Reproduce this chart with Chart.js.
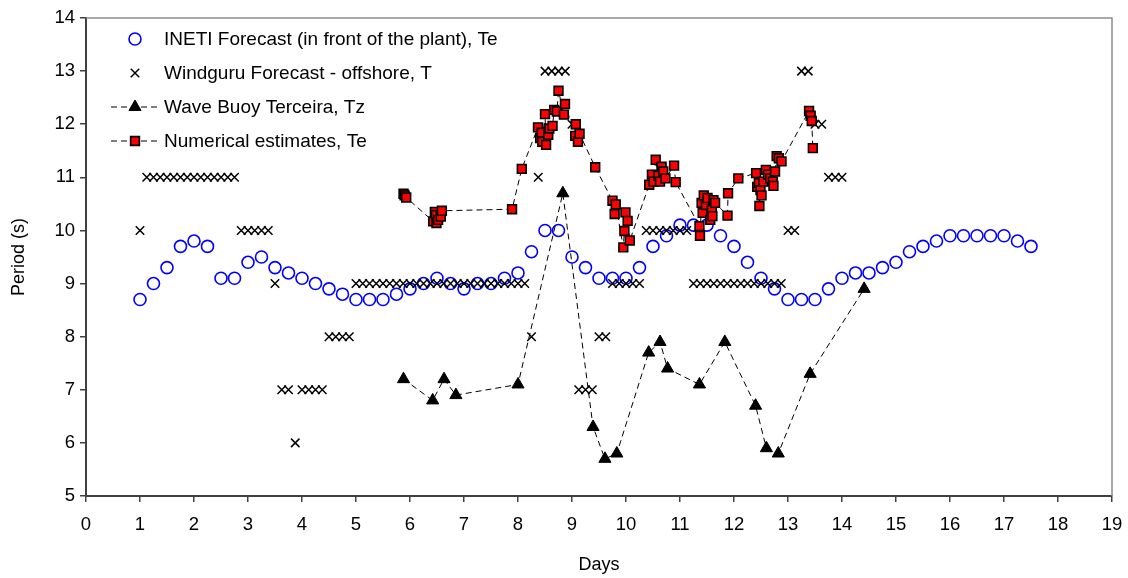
<!DOCTYPE html>
<html>
<head>
<meta charset="utf-8">
<script src="https://cdn.jsdelivr.net/npm/chart.js@4.4.1/dist/chart.umd.min.js"></script>
<style>
  html, body { margin: 0; padding: 0; background: #fff; }
  #wrap { width: 1128px; height: 578px; }
</style>
</head>
<body>
<div id="wrap"><canvas id="theChart" width="1128" height="578"></canvas></div>
<script>
// INETI forecast, every 6 hours from day 1
const inetiStart = 1, inetiStep = 0.25;
const inetiTe = [8.7, 9.0, 9.3, 9.7, 9.8, 9.7, 9.1, 9.1, 9.4, 9.5, 9.3, 9.2, 9.1, 9.0, 8.9, 8.8,
  8.7, 8.7, 8.7, 8.8, 8.9, 9.0, 9.1, 9.0, 8.9, 9.0, 9.0, 9.1, 9.2, 9.6, 10.0, 10.0,
  9.5, 9.3, 9.1, 9.1, 9.1, 9.3, 9.7, 9.9, 10.1, 10.1, 10.1, 9.9, 9.7, 9.4, 9.1, 8.9,
  8.7, 8.7, 8.7, 8.9, 9.1, 9.2, 9.2, 9.3, 9.4, 9.6, 9.7, 9.8, 9.9, 9.9, 9.9, 9.9,
  9.9, 9.8, 9.7];

// Windguru forecast, every 3 hours from day 1
const windStart = 1, windStep = 0.125;
const windT = [10,
  11, 11, 11, 11, 11, 11, 11, 11, 11, 11, 11, 11, 11, 11,
  10, 10, 10, 10, 10, 9, 7, 7, 6, 7, 7, 7, 7, 8, 8, 8, 8,
  9, 9, 9, 9, 9, 9, 9, 9, 9, 9, 9, 9, 9, 9, 9, 9, 9, 9, 9, 9, 9, 9, 9, 9, 9, 9,
  8, 11, 13, 13, 13, 13, 12, 7, 7, 7, 8, 8, 9, 9, 9, 9, 9,
  10, 10, 10, 10, 10, 10, 10,
  9, 9, 9, 9, 9, 9, 9, 9, 9, 9, 9, 9, 9, 9,
  10, 10, 13, 13, 12, 12, 11, 11, 11];

// wave buoy
const buoyDays = [5.88, 6.42, 6.63, 6.85, 8.0, 8.83, 9.39, 9.61, 9.83, 10.42, 10.63, 10.77,
  11.36, 11.83, 12.4, 12.6, 12.82, 13.41, 14.41];
const buoyTz = [7.2, 6.8, 7.2, 6.9, 7.1, 10.7, 6.3, 5.7, 5.8, 7.7, 7.9, 7.4,
  7.1, 7.9, 6.7, 5.9, 5.8, 7.3, 8.9];

// numerical estimates
const numDays = [5.88, 5.90, 5.93, 6.43, 6.46, 6.48, 6.49, 6.52, 6.57, 6.59, 7.89, 8.07,
  8.37, 8.41, 8.44, 8.45, 8.50, 8.52, 8.56, 8.58, 8.64, 8.67, 8.72, 8.75, 8.85, 8.87,
  9.06, 9.07, 9.11, 9.14, 9.43, 9.75, 9.79, 9.81, 9.95, 9.97, 9.99, 10.03, 10.07,
  10.43, 10.48, 10.51, 10.55, 10.60, 10.63, 10.66, 10.69, 10.73, 10.89, 10.92,
  11.36, 11.37, 11.40, 11.42, 11.44, 11.48, 11.51, 11.56, 11.59, 11.60, 11.62, 11.65,
  11.88, 11.89, 12.08, 12.41, 12.43, 12.46, 12.47, 12.49, 12.51, 12.54, 12.59, 12.63,
  12.67, 12.72, 12.73, 12.76, 12.79, 12.83, 12.88, 13.39, 13.42, 13.44, 13.46];
const numTe = [10.69, 10.66, 10.62, 10.17, 10.35, 10.29, 10.14, 10.20, 10.26, 10.37, 10.40, 11.16,
  11.94, 11.74, 11.84, 11.67, 12.19, 11.61, 11.80, 11.92, 11.97, 12.27, 12.24, 12.63, 12.18, 12.38,
  11.78, 12.00, 11.67, 11.82, 11.19, 10.56, 10.31, 10.49, 9.68, 9.99, 10.34, 10.18, 9.81,
  10.86, 11.05, 10.92, 11.33, 11.03, 10.92, 11.20, 11.11, 10.98, 11.22, 10.91,
  10.08, 9.90, 10.52, 10.33, 10.66, 10.48, 10.61, 10.20, 10.39, 10.27, 10.57, 10.52,
  10.28, 10.70, 10.98, 11.08, 10.82, 10.89, 10.46, 10.76, 10.66, 10.92, 11.14, 11.05,
  10.98, 10.92, 10.84, 11.11, 11.40, 11.36, 11.30, 12.25, 12.16, 12.06, 11.55];

const FONT = "'Liberation Sans', Arial, sans-serif";

function gridPoints(start, step, vals) {
  return vals.map((v, i) => ({ x: start + i * step, y: v }));
}
function pairPoints(xs, ys) {
  return xs.map((x, i) => ({ x: x, y: ys[i] }));
}

const datasets = [
  {
    label: 'INETI Forecast (in front of the plant), Te',
    data: gridPoints(inetiStart, inetiStep, inetiTe),
    showLine: false,
    pointStyle: 'circle',
    pointRadius: 6,
    pointBorderWidth: 1.6,
    pointBorderColor: '#0000ff',
    pointBackgroundColor: 'rgba(0,0,0,0)',
    order: 3
  },
  {
    label: 'Windguru Forecast - offshore, T',
    data: gridPoints(windStart, windStep, windT),
    showLine: false,
    pointStyle: 'crossRot',
    pointRadius: 6,
    pointBorderWidth: 1.5,
    pointBorderColor: '#000',
    order: 2
  },
  {
    label: 'Wave Buoy Terceira, Tz',
    data: pairPoints(buoyDays, buoyTz),
    showLine: true,
    borderColor: '#000',
    borderWidth: 1,
    borderDash: [6, 4],
    pointStyle: 'triangle',
    pointRadius: 7,
    pointBorderWidth: 1,
    pointBorderColor: '#000',
    pointBackgroundColor: '#000',
    order: 1
  },
  {
    label: 'Numerical estimates, Te',
    data: pairPoints(numDays, numTe),
    showLine: true,
    borderColor: '#000',
    borderWidth: 1,
    borderDash: [6, 4],
    pointStyle: 'rect',
    pointRadius: 6.2,
    pointBorderWidth: 1.6,
    pointBorderColor: '#000',
    pointBackgroundColor: '#ff0000',
    order: 0
  }
];

// grey top and right border of the plot box
const frame = {
  id: 'frame',
  beforeDatasetsDraw(chart) {
    const { ctx, chartArea: a } = chart;
    ctx.save();
    ctx.strokeStyle = '#8c8c8c';
    ctx.lineWidth = 1.5;
    ctx.beginPath();
    ctx.moveTo(a.left, a.top);
    ctx.lineTo(a.right, a.top);
    ctx.lineTo(a.right, a.bottom);
    ctx.stroke();
    ctx.restore();
  }
};

// legend drawn inside the plot, top left
const insideLegend = {
  id: 'insideLegend',
  afterDraw(chart) {
    const ctx = chart.ctx;
    const a = chart.chartArea;
    const mx = a.left + 49, tx = a.left + 78;
    let y = a.top + 21;
    ctx.save();
    chart.data.datasets.forEach(ds => {
      if (ds.showLine) {
        ctx.strokeStyle = '#000';
        ctx.lineWidth = 1;
        ctx.setLineDash([6, 4]);
        ctx.beginPath();
        ctx.moveTo(mx - 24, y);
        ctx.lineTo(mx + 24, y);
        ctx.stroke();
        ctx.setLineDash([]);
      }
      ctx.strokeStyle = ds.pointBorderColor;
      ctx.fillStyle = ds.pointBackgroundColor || 'rgba(0,0,0,0)';
      ctx.lineWidth = ds.pointBorderWidth;
      Chart.helpers.drawPoint(ctx, {
        pointStyle: ds.pointStyle, radius: ds.pointRadius, rotation: 0, borderWidth: ds.pointBorderWidth
      }, mx, y);
      ctx.fillStyle = '#000';
      ctx.font = '19px ' + FONT;
      ctx.textBaseline = 'middle';
      ctx.textAlign = 'left';
      ctx.fillText(ds.label, tx, y + 1);
      y += 34;
    });
    ctx.restore();
  }
};

const cfg = {
  type: 'scatter',
  data: { datasets: datasets },
  options: {
    responsive: false,
    animation: false,
    layout: { padding: { top: 18, right: 16, left: 0, bottom: 0 } },
    scales: {
      x: {
        type: 'linear',
        min: 0,
        max: 19,
        afterFit: s => { s.height = 82; s.paddingLeft = 0; s.paddingRight = 0; },
        ticks: { stepSize: 1, color: '#000', font: { family: FONT, size: 18.5 }, padding: 12, maxRotation: 0 },
        grid: { drawOnChartArea: false, drawTicks: true, tickLength: 6, color: '#404040', lineWidth: 1.5 },
        border: { display: true, color: '#404040', width: 2 },
        title: { display: true, text: 'Days', color: '#000', font: { family: FONT, size: 18 }, padding: { bottom: 2 } }
      },
      y: {
        type: 'linear',
        min: 5,
        max: 14,
        afterFit: s => { s.width = 86; },
        ticks: { stepSize: 1, color: '#000', font: { family: FONT, size: 18.5 }, padding: 5 },
        grid: { drawOnChartArea: false, drawTicks: true, tickLength: 6, color: '#404040', lineWidth: 1.5 },
        border: { display: true, color: '#404040', width: 2 },
        title: { display: true, text: 'Period (s)', color: '#000', font: { family: FONT, size: 18 }, padding: { top: 8 } }
      }
    },
    plugins: {
      legend: { display: false },
      tooltip: { enabled: false }
    }
  },
  plugins: [frame, insideLegend]
};

const myChart = new Chart(document.getElementById('theChart').getContext('2d'), cfg);
</script>
</body>
</html>
